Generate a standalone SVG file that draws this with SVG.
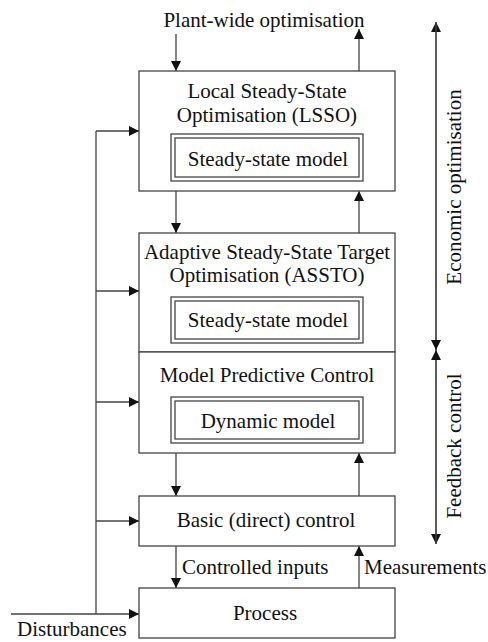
<svg xmlns="http://www.w3.org/2000/svg" width="488" height="642" viewBox="0 0 488 642">
<defs>
<marker id="ah" viewBox="0 0 10 10" refX="10" refY="5" markerWidth="10" markerHeight="10" markerUnits="userSpaceOnUse" orient="auto">
<path d="M0,0 L10,5 L0,10 Z" fill="#111"/>
</marker>
</defs>
<style>
.box{fill:#fff;stroke:#444;stroke-width:1.3}
.ln{fill:none;stroke:#444;stroke-width:1.3}
.ar{fill:none;stroke:#444;stroke-width:1.3;marker-end:url(#ah)}
text{font-family:"Liberation Serif","Times New Roman",serif;font-size:21px;fill:#111}
.c{text-anchor:middle}
</style>
<rect width="488" height="642" fill="#fff"/>
<g id="connectors">
<line class="ar" x1="176" y1="34" x2="176" y2="71"/>
<line class="ar" x1="359" y1="71" x2="359" y2="29"/>
<line class="ar" x1="176" y1="191" x2="176" y2="233"/>
<line class="ar" x1="359" y1="233" x2="359" y2="191"/>
<line class="ar" x1="176" y1="453" x2="176" y2="496"/>
<line class="ar" x1="359" y1="496" x2="359" y2="453"/>
<line class="ar" x1="176" y1="546" x2="176" y2="588"/>
<line class="ar" x1="359" y1="588" x2="359" y2="546"/>
<line class="ln" x1="96" y1="131" x2="96" y2="614"/>
<line class="ar" x1="96" y1="131" x2="139" y2="131"/>
<line class="ar" x1="96" y1="291" x2="139" y2="291"/>
<line class="ar" x1="96" y1="402" x2="139" y2="402"/>
<line class="ar" x1="96" y1="521" x2="139" y2="521"/>
<line class="ar" x1="11" y1="614" x2="139" y2="614"/>
<line class="ar" x1="436" y1="350" x2="436" y2="22"/>
<line class="ar" x1="436" y1="22" x2="436" y2="350"/>
<line class="ar" x1="436" y1="350" x2="436" y2="544"/>
<line class="ar" x1="436" y1="544" x2="436" y2="350"/>
</g>
<g id="lsso">
<rect class="box" x="139" y="71" width="256" height="120"/>
<text class="c" x="267" y="98">Local Steady-State</text>
<text class="c" x="267" y="122">Optimisation (LSSO)</text>
</g>
<g id="lsso-model">
<rect class="box" x="171" y="134" width="192" height="47"/>
<rect class="box" x="175" y="138" width="184" height="39"/>
<text class="c" x="268" y="166">Steady-state model</text>
</g>
<g id="assto">
<rect class="box" x="139" y="233" width="256" height="119"/>
<text class="c" x="267" y="259">Adaptive Steady-State Target</text>
<text class="c" x="267" y="282">Optimisation (ASSTO)</text>
</g>
<g id="assto-model">
<rect class="box" x="171" y="297" width="192" height="46"/>
<rect class="box" x="175" y="301" width="184" height="38"/>
<text class="c" x="268" y="327">Steady-state model</text>
</g>
<g id="mpc">
<rect class="box" x="139" y="352" width="256" height="101"/>
<text class="c" x="267" y="382">Model Predictive Control</text>
</g>
<g id="mpc-model">
<rect class="box" x="171" y="397" width="192" height="46"/>
<rect class="box" x="175" y="401" width="184" height="38"/>
<text class="c" x="268" y="428">Dynamic model</text>
</g>
<g id="basic">
<rect class="box" x="139" y="496" width="256" height="50"/>
<text class="c" x="266" y="527">Basic (direct) control</text>
</g>
<g id="process">
<rect class="box" x="139" y="588" width="256" height="50"/>
<text class="c" x="265" y="620">Process</text>
</g>
<g id="labels">
<text class="c" x="264" y="27">Plant-wide optimisation</text>
<text x="182" y="574">Controlled inputs</text>
<text x="364" y="574">Measurements</text>
<text x="17" y="636">Disturbances</text>
<text class="c" transform="translate(461,187) rotate(-90)">Economic optimisation</text>
<text class="c" transform="translate(461,446) rotate(-90)">Feedback control</text>
</g>
</svg>
